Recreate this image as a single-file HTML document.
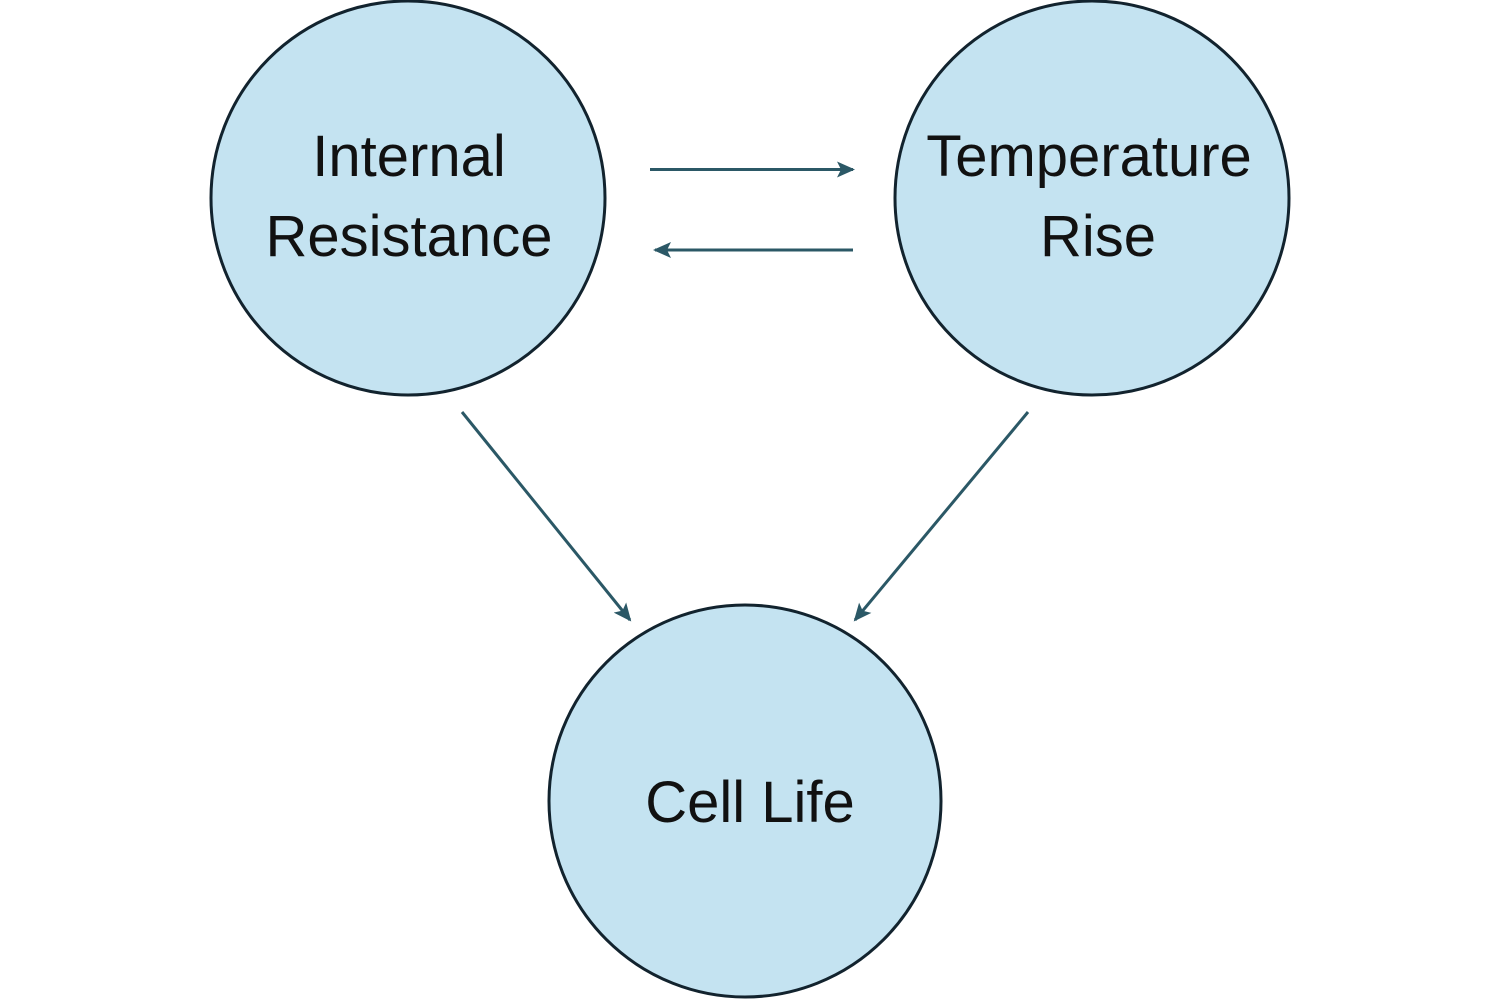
<!DOCTYPE html>
<html><head><style>html,body{margin:0;padding:0;background:#fff;}</style></head>
<body>
<svg width="1500" height="1000" viewBox="0 0 1500 1000" xmlns="http://www.w3.org/2000/svg">
<defs>
<marker id="a" markerWidth="18" markerHeight="16" refX="16" refY="8" orient="auto" markerUnits="userSpaceOnUse" viewBox="0 0 18 16">
<path d="M0,0 L18,8 L0,16 L4,8 Z" fill="#2b5866"/>
</marker>
</defs>
<g fill="#c4e3f1" stroke="#12232e" stroke-width="3">
<circle cx="408" cy="198" r="197"/>
<circle cx="1092" cy="198" r="197"/>
<circle cx="745" cy="801" r="196"/>
</g>
<g stroke="#2b5866" stroke-width="3" fill="none">
<line x1="650" y1="169.5" x2="853" y2="169.5" marker-end="url(#a)"/>
<line x1="853" y1="250" x2="655" y2="250" marker-end="url(#a)"/>
<line x1="462" y1="412" x2="630" y2="620" marker-end="url(#a)"/>
<line x1="1028" y1="412" x2="855" y2="620" marker-end="url(#a)"/>
</g>
<g font-family="Liberation Sans, sans-serif" font-size="58" fill="#111" text-anchor="middle">
<text x="409" y="176">Internal</text>
<text x="409" y="256">Resistance</text>
<text x="1089" y="176">Temperature</text>
<text x="1098" y="256">Rise</text>
<text x="750" y="822">Cell Life</text>
</g>
</svg>
</body></html>
